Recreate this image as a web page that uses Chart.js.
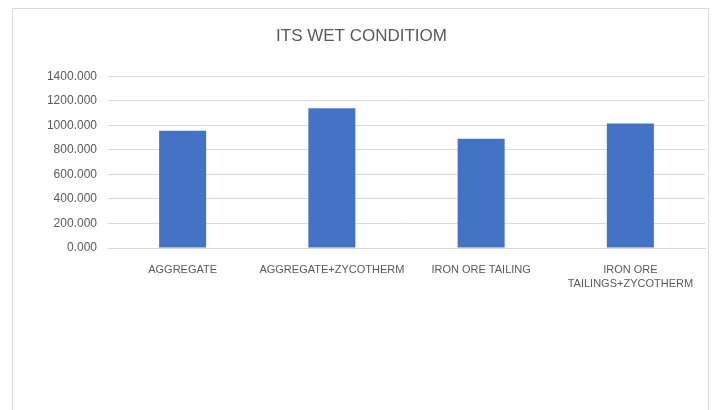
<!DOCTYPE html>
<html lang="en">
<head>
  <meta charset="UTF-8" />
  <title>Its Wet Condition</title>
  <script src="https://cdn.jsdelivr.net/npm/chart.js"></script>
  <style>
    body {
      margin: 0;
      background: #ffffff;
      width: 715px;
      height: 410px;
      overflow: hidden;
      position: relative;
    }
    .frame {
      position: absolute;
      left: 12px;
      top: 8px;
      width: 697px;
      height: 440px;
      border: 1px solid #d9d9d9;
      box-sizing: border-box;
    }
    canvas {
      position: absolute;
      left: 0;
      top: 0;
    }
  </style>
</head>
<body>
  <div class="frame"></div>
  <canvas id="wetChart" width="715" height="410"></canvas>

  <script>
    const categories = [
      'AGGREGATE',
      'AGGREGATE+ZYCOTHERM',
      'IRON ORE TAILING',
      ['IRON ORE', 'TAILINGS+ZYCOTHERM']
    ];
    const wetValues = [956, 1140, 891, 1016];
    const yTicks = [0, 200, 400, 600, 800, 1000, 1200, 1400];

    const font = "'Liberation Sans', Arial, sans-serif";

    const ctx = document.getElementById('wetChart').getContext('2d');
    new Chart(ctx, {
      type: 'bar',
      data: {
        labels: categories,
        datasets: [{
          label: 'Wet',
          data: wetValues,
          backgroundColor: '#4472c4',
          categoryPercentage: 1,
          barPercentage: 0.315
        }]
      },
      options: {
        responsive: false,
        animation: false,
        layout: { padding: { left: 18, right: 10, top: 0, bottom: 0 } },
        plugins: {
          legend: { display: false },
          tooltip: { enabled: false },
          title: {
            display: true,
            text: 'ITS WET CONDITIOM',
            color: '#595959',
            font: { family: font, size: 17, weight: 'normal' },
            padding: { top: 26, bottom: 30 }
          }
        },
        scales: {
          x: {
            grid: { display: false, drawTicks: false },
            border: { display: true, color: '#d9d9d9' },
            ticks: {
              color: '#595959',
              maxRotation: 0,
              autoSkip: false,
              padding: 14,
              font: { family: font, size: 11, lineHeight: 1.36 }
            },
            afterFit: s => { s.height = 162; }
          },
          y: {
            min: 0,
            max: 1400,
            afterBuildTicks: s => { s.ticks = yTicks.map(v => ({ value: v })); },
            grid: { color: '#d9d9d9', drawTicks: false },
            border: { display: false },
            ticks: {
              color: '#595959',
              padding: 11,
              font: { family: font, size: 12 },
              callback: v => Number(v).toFixed(3)
            },
            afterFit: s => { s.width = 90; }
          }
        }
      }
    });
  </script>
</body>
</html>
